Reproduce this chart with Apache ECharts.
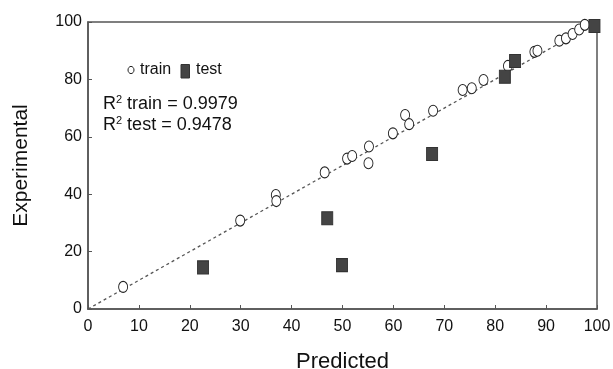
<!DOCTYPE html>
<html>
<head>
<meta charset="utf-8">
<script src="https://cdn.jsdelivr.net/npm/echarts@6/dist/echarts.min.js"></script>
<style>
  html, body { margin: 0; padding: 0; background: #fff; }
  #chart { width: 613px; height: 369px; }
</style>
</head>
<body>
<div id="chart"></div>
<script>
// Predicted vs experimental values, training and test sets
const trainPredicted = [6.9, 29.9, 36.9, 37.0, 46.5, 50.9, 51.9, 55.2, 55.1, 59.9, 62.3, 63.1, 67.8, 73.6, 75.4, 77.7, 82.5, 87.7, 88.3, 92.6, 93.9, 95.2, 96.5, 97.6];
const trainExperimental = [7.7, 30.8, 39.7, 37.6, 47.6, 52.4, 53.3, 56.6, 50.8, 61.2, 67.6, 64.4, 69.1, 76.3, 76.9, 79.8, 84.7, 89.6, 90.0, 93.5, 94.3, 95.8, 97.4, 99.0];
const testPredicted = [22.6, 47.0, 49.9, 67.6, 81.9, 83.9, 99.5];
const testExperimental = [14.5, 31.6, 15.3, 54.0, 80.9, 86.4, 98.6];
const identityLine = [[0, 0], [100, 100]];
const r2Train = '0.9979';
const r2Test = '0.9478';

const pairs = (xs, ys) => xs.map((x, i) => [x, ys[i]]);

const chart = echarts.init(document.getElementById('chart'));
const axisColor = '#555';
const font = 'Liberation Sans, Arial, sans-serif';
const textColor = '#111';

chart.setOption({
  animation: false,
  backgroundColor: '#fff',
  grid: {
    left: 88, right: 16, top: 22, bottom: 60,
    outerBoundsMode: 'none', containLabel: false,
    show: true, borderColor: axisColor, borderWidth: 1.5
  },
  xAxis: {
    type: 'value', min: 0, max: 100, interval: 10,
    name: 'Predicted', nameLocation: 'middle', nameGap: 42,
    nameTextStyle: { fontFamily: font, fontSize: 22, color: textColor },
    axisLine: { show: true, lineStyle: { color: axisColor, width: 1.5 } },
    axisTick: { show: true, inside: true, length: 4, lineStyle: { color: axisColor } },
    axisLabel: { fontFamily: font, fontSize: 16, color: textColor, margin: 10 },
    splitLine: { show: false }
  },
  yAxis: {
    type: 'value', min: 0, max: 100, interval: 20,
    name: 'Experimental', nameLocation: 'middle', nameGap: 56,
    nameTextStyle: { fontFamily: font, fontSize: 21, color: textColor },
    axisLine: { show: true, lineStyle: { color: axisColor, width: 1.5 } },
    axisTick: { show: true, inside: true, length: 4, lineStyle: { color: axisColor } },
    axisLabel: { fontFamily: font, fontSize: 16, color: textColor, margin: 6 },
    splitLine: { show: false }
  },
  graphic: [
    // key: open circle = train, filled square = test
    {
      type: 'ellipse', shape: { cx: 131, cy: 70, rx: 3, ry: 3.6 },
      style: { fill: '#fff', stroke: '#222', lineWidth: 1 }
    },
    {
      type: 'text', left: 140, top: 62,
      style: { text: 'train', font: '16px ' + font, fill: textColor }
    },
    {
      type: 'rect', shape: { x: 181, y: 64.5, width: 8.5, height: 13.5 },
      style: { fill: '#444', stroke: '#333', lineWidth: 1 }
    },
    {
      type: 'text', left: 196, top: 62,
      style: { text: 'test', font: '16px ' + font, fill: textColor }
    },
    {
      type: 'text', left: 103, top: 94,
      style: {
        text: 'R{sup|2} train = ' + r2Train + '\nR{sup|2} test = ' + r2Test,
        font: '18px ' + font, fill: textColor, lineHeight: 21,
        rich: { sup: { fontSize: 11, verticalAlign: 'top', lineHeight: 21, padding: [0, 0, 8, 0] } }
      }
    }
  ],
  series: [
    {
      type: 'line', data: identityLine, symbol: 'none', silent: true, z: 1,
      lineStyle: { color: '#555', width: 1.3, type: [3, 3] }
    },
    {
      name: 'train', type: 'scatter', data: pairs(trainPredicted, trainExperimental),
      symbol: 'circle', symbolSize: [9, 11], z: 3,
      itemStyle: { color: '#fff', borderColor: '#222', borderWidth: 1, opacity: 1 }
    },
    {
      name: 'test', type: 'scatter', data: pairs(testPredicted, testExperimental),
      symbol: 'rect', symbolSize: [11, 13], z: 4,
      itemStyle: { color: '#444', borderColor: '#333', borderWidth: 1, opacity: 1 }
    }
  ]
});
</script>
</body>
</html>
